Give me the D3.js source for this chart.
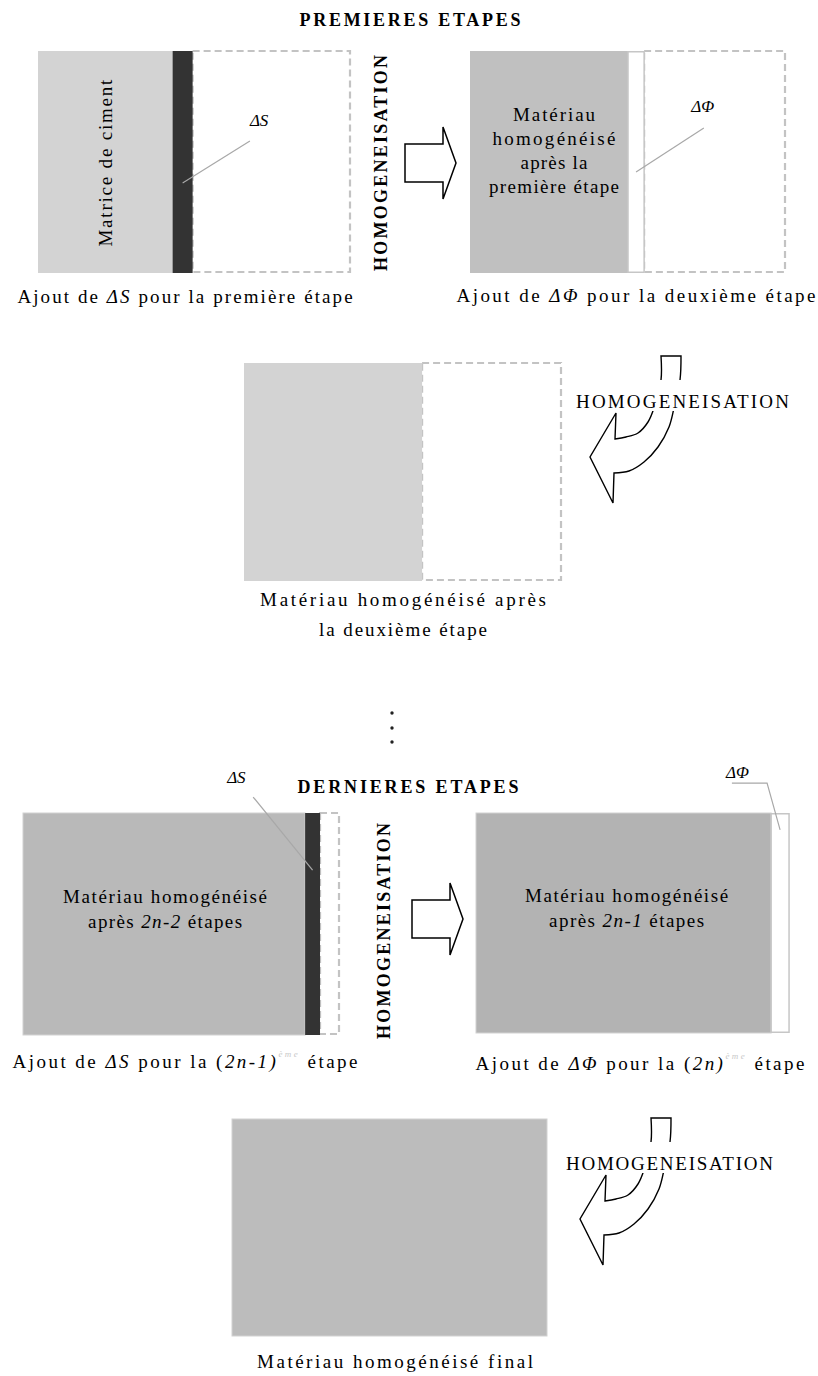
<!DOCTYPE html>
<html>
<head>
<meta charset="utf-8">
<script src="https://cdn.jsdelivr.net/npm/d3@7"></script>
<style>
    body { margin: 0; background: #fff; }
    svg text { fill: #000; }
</style>
</head>
<body>
<svg id="fig" width="818" height="1376" font-family="'Liberation Serif', 'DejaVu Serif', 'Times New Roman', serif"></svg>
<script>
//section titles
var titles = ['PREMIERES ETAPES', 'DERNIERES ETAPES'];

//share of each box taken by the homogenised material (0..1)
var matrixShare = [0.43, 0.50, 0.56, 0.89, 0.94, 1.00];

//share of each box taken by the phase added at that step
var addedShare = [0.064, 0.051, 0, 0.047, 0.057, 0];

//kind of added phase: S = solid (ΔS), F = porosity (ΔΦ)
var addedPhase = ['S', 'F', '', 'S', 'F', ''];
var phaseLabels = { S: 'ΔS', F: 'ΔΦ' };

//text written inside each box (*italic*)
var innerLabels = [
    ['Matrice de ciment'],
    ['Matériau', 'homogénéisé', 'après la', 'première étape'],
    [],
    ['Matériau homogénéisé', 'après *2n-2* étapes'],
    ['Matériau homogénéisé', 'après *2n-1* étapes'],
    []
];

//captions under each box (*italic*, ^superscript^)
var captions = [
    ['Ajout de *ΔS* pour la première étape'],
    ['Ajout de *ΔΦ* pour la deuxième étape'],
    ['Matériau homogénéisé après', 'la deuxième étape'],
    ['Ajout de *ΔS* pour la (*2n-1)*^ème^ étape'],
    ['Ajout de *ΔΦ* pour la (*2n)*^ème^ étape'],
    ['Matériau homogénéisé final']
];

//arrow label
var processLabel = 'HOMOGENEISATION';

/* ---------------- layout ---------------- */
var boxes = [
    { x: 38,  y: 51,   w: 313, h: 222, fill: '#d3d3d3' },
    { x: 470, y: 51,   w: 316, h: 222, fill: '#c0c0c0' },
    { x: 244, y: 363,  w: 318, h: 218, fill: '#d3d3d3' },
    { x: 23,  y: 813,  w: 317, h: 222, fill: '#b9b9b9' },
    { x: 476, y: 813,  w: 314, h: 220, fill: '#b3b3b3' },
    { x: 232, y: 1119, w: 315, h: 217, fill: '#bcbcbc' }
];

//inner label placement (fractions of box height) and fitted widths
var innerLayout = [
    { rotate: true, fy: 0.505, widths: [167] },
    { fy: 0.315, step: 24, dx: 5, widths: [82, 123, 67, 130] },
    {},
    { fy: 0.405, step: 25, dx: 1, widths: [204, 154] },
    { fy: 0.405, step: 25, dx: 3, widths: [203, 155] },
    {}
];

//caption placement
var captionLayout = [
    { cx: 185, y: 303,  widths: [335] },
    { cx: 636, y: 302,  widths: [359] },
    { cx: 403, y: 606,  step: 30, widths: [286, 168] },
    { cx: 185, y: 1068, widths: [345] },
    { cx: 640, y: 1070, widths: [329] },
    { cx: 395, y: 1368, widths: [276] }
];

//phase labels and leaders, in box fractions
var leaders = [
    { box: 0, label: [0.677, 0.338], pts: [[null, 0.595], [0.677, 0.405]] },
    { box: 1, label: [0.700, 0.275], pts: [[null, 0.545], [0.740, 0.347]] },
    { box: 3, label: [0.644, -0.135], pts: [[0.726, -0.072], [null, 0.257]] },
    { box: 4, label: [0.796, -0.159], pts: [[0.815, -0.136], [0.927, -0.136], [null, 0.077]] }
];

var svg = d3.select('#fig');

//parse marked strings into styled segments
var parseSegments = function (str) {
    return str.split(/(\*[^*]+\*|\^[^^]+\^)/).filter(function (s) { return s.length; }).map(function (s) {
        if (s[0] === '*') return { text: s.slice(1, -1), style: 'italic' };
        if (s[0] === '^') return { text: s.slice(1, -1), style: 'sup' };
        return { text: s, style: 'normal' };
    });
};

//writes one text line and spreads its letters to the wanted width
var writeText = function (parent, str, x, y, opts) {
    opts = opts || {};
    var anchor = opts.anchor || 'middle';
    var t = parent.append('text')
        .attr('x', x)
        .attr('y', y)
        .attr('text-anchor', anchor)
        .attr('font-size', opts.size || 19)
        .attr('font-weight', opts.weight || 'normal');
    var raised = false;
    parseSegments(str).forEach(function (seg) {
        var sp = t.append('tspan').text(seg.text);
        if (seg.style === 'italic') sp.attr('font-style', 'italic');
        if (seg.style === 'sup') {
            sp.attr('font-size', 9).attr('font-style', 'italic').attr('fill', '#c8c8c8').attr('dy', -11);
            raised = true;
        } else if (raised) {
            sp.attr('dy', 11);
            raised = false;
        }
    });
    if (opts.width) {
        var node = t.node(),
            len = node.getComputedTextLength(),
            n = node.getNumberOfChars(),
            ls = (opts.width - len) / (n - 1);
        t.attr('letter-spacing', ls.toFixed(2));
        if (anchor === 'middle') t.attr('x', x + ls / 2);
    }
    return t;
};

//titles
writeText(svg, titles[0], 410, 26, { size: 18, weight: 'bold', width: 221 });
writeText(svg, titles[1], 408, 793, { size: 18, weight: 'bold', width: 221 });

//boxes
boxes.forEach(function (b, i) {
    var xs = d3.scaleLinear().domain([0, 1]).range([b.x, b.x + b.w]),
        ys = d3.scaleLinear().domain([0, 1]).range([b.y, b.y + b.h]),
        g = svg.append('g'),
        filled = matrixShare[i] + addedShare[i];
    b.xs = xs;
    b.ys = ys;

    //empty part still to fill
    if (filled < 0.99) {
        g.append('rect')
            .attr('x', xs(filled))
            .attr('y', ys(0))
            .attr('width', xs(1) - xs(filled) - 1)
            .attr('height', ys(1) - ys(0) - 1)
            .attr('fill', 'none')
            .attr('stroke', '#c3c3c3')
            .attr('stroke-width', 2.2)
            .attr('stroke-dasharray', '7,4');
    }

    //homogenised material
    g.append('rect')
        .attr('x', xs(0))
        .attr('y', ys(0))
        .attr('width', xs(matrixShare[i]) - xs(0))
        .attr('height', ys(1) - ys(0))
        .attr('fill', b.fill)
        .attr('stroke', i >= 3 ? '#d2d2d2' : 'none')
        .attr('stroke-width', 1);

    //added phase
    if (addedShare[i] > 0) {
        var isSolid = addedPhase[i] === 'S';
        g.append('rect')
            .attr('x', xs(matrixShare[i]))
            .attr('y', ys(0) + (isSolid ? 0 : 0.75))
            .attr('width', xs(filled) - xs(matrixShare[i]))
            .attr('height', ys(1) - ys(0) - (isSolid ? 0 : 1.5))
            .attr('fill', isSolid ? '#333333' : '#ffffff')
            .attr('stroke', isSolid ? 'none' : '#c6c6c6')
            .attr('stroke-width', 1.5);
    }

    //inner text
    var lay = innerLayout[i],
        cx = (xs(0) + xs(matrixShare[i])) / 2 + (lay.dx || 0);
    innerLabels[i].forEach(function (line, k) {
        if (lay.rotate) {
            var rg = g.append('g').attr('transform', 'translate(' + (cx + 7) + ',' + ys(lay.fy) + ') rotate(-90)');
            writeText(rg, line, 0, 0, { width: lay.widths[k] });
        } else {
            writeText(g, line, cx, ys(lay.fy) + k * lay.step, { width: lay.widths[k] });
        }
    });

    //captions
    var cl = captionLayout[i];
    captions[i].forEach(function (line, k) {
        writeText(svg, line, cl.cx, cl.y + k * (cl.step || 0), { width: cl.widths[k] });
    });
});

//phase labels with leader lines
leaders.forEach(function (l) {
    var b = boxes[l.box],
        i = l.box,
        stripMid = b.xs(matrixShare[i] + addedShare[i] / 2);
    var pts = l.pts.map(function (p) {
        return [p[0] === null ? stripMid : b.xs(p[0]), b.ys(p[1])];
    });
    svg.append('path')
        .attr('d', d3.line()(pts))
        .attr('fill', 'none')
        .attr('stroke', '#a8a8a8')
        .attr('stroke-width', 1.2);
    writeText(svg, '*' + phaseLabels[addedPhase[i]] + '*', b.xs(l.label[0]), b.ys(l.label[1]), { anchor: 'start', size: 17 });
});

//straight arrows with vertical label
var blockArrows = [{ x: 405, y: 163, tx: 387, ty: 163 }, { x: 412, y: 919, tx: 390, ty: 931 }];
blockArrows.forEach(function (a) {
    var body = 19, head = 36, len = 38, tip = 13;
    var pts = [[a.x, a.y - body], [a.x + len, a.y - body], [a.x + len, a.y - head], [a.x + len + tip, a.y],
        [a.x + len, a.y + head], [a.x + len, a.y + body], [a.x, a.y + body]];
    svg.append('path')
        .attr('d', d3.line()(pts) + 'Z')
        .attr('fill', '#fff')
        .attr('stroke', '#000')
        .attr('stroke-width', 1.5);
    var rg = svg.append('g').attr('transform', 'translate(' + a.tx + ',' + a.ty + ') rotate(-90)');
    writeText(rg, processLabel, 0, 0, { size: 18, weight: 'bold', width: 216 });
});

//curved arrows, shape relative to the label start and baseline
var curvedArrows = [{ x: 576, y: 408, width: 213 }, { x: 566, y: 1170, width: 207 }];
var outerEdge = [[105, -52], [104, -28], [98, 0], [93, 19], [82, 39], [68, 54], [53, 63], [38, 65]],
    arrowHead = [[38, 65], [37, 95], [14, 49], [40, 5], [39, 31]],
    innerEdge = [[39, 31], [50, 29], [62, 25], [72, 14], [78, 0], [85, -28], [85, -52]];
curvedArrows.forEach(function (a) {
    var shift = function (p) { return [a.x + p[0], a.y + p[1]]; },
        curve = d3.line().curve(d3.curveCatmullRom.alpha(0.5)),
        straight = d3.line();
    var d = curve(outerEdge.map(shift)) +
        straight(arrowHead.map(shift)).replace('M', 'L') +
        curve(innerEdge.map(shift)).replace('M', 'L') + 'Z';
    svg.append('path')
        .attr('d', d)
        .attr('fill', '#fff')
        .attr('stroke', '#000')
        .attr('stroke-width', 1.4);
    svg.append('rect')
        .attr('x', a.x - 3)
        .attr('y', a.y - 28)
        .attr('width', a.width + 6)
        .attr('height', 31)
        .attr('fill', '#fff');
    writeText(svg, processLabel, a.x, a.y, { anchor: 'start', size: 19, width: a.width });
});

//vertical ellipsis between the two phases
svg.selectAll('.dot')
    .data([713, 728, 742])
    .enter().append('circle')
    .attr('class', 'dot')
    .attr('cx', 392)
    .attr('cy', function (d) { return d; })
    .attr('r', 1.7)
    .attr('fill', '#222');
</script>
</body>
</html>
